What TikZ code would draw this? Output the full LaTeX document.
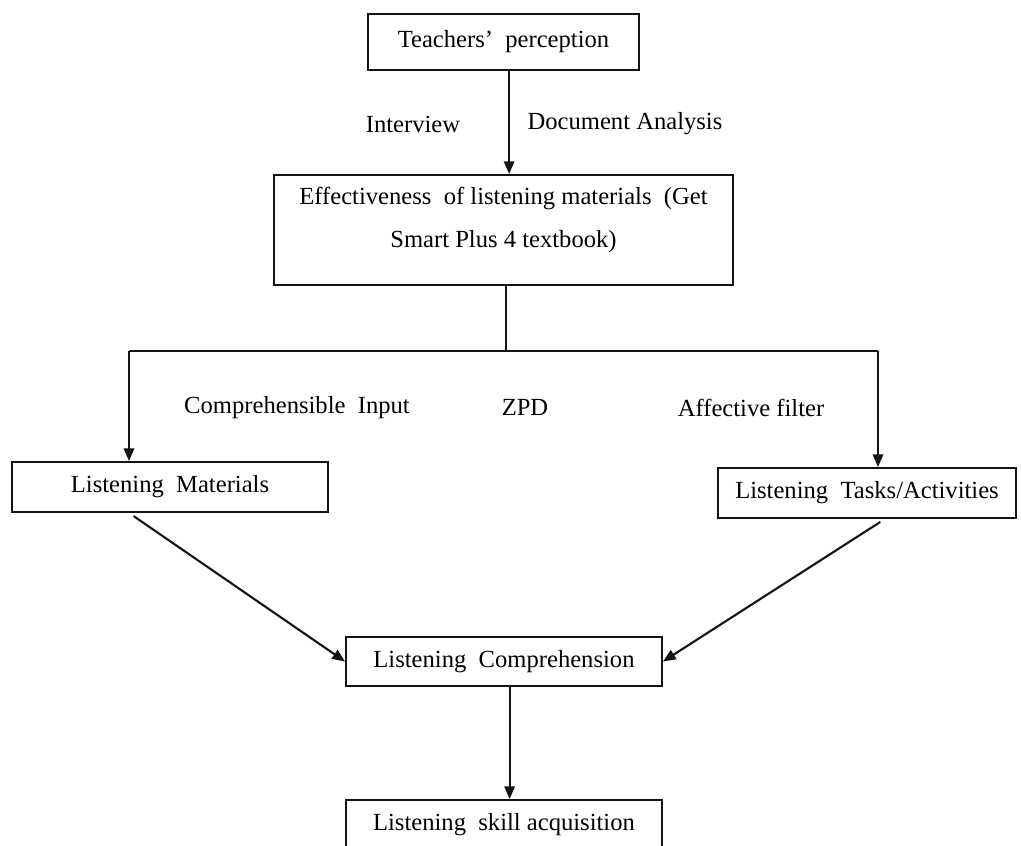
\documentclass[tikz,border=0pt]{standalone}
\usepackage{fontspec}
\setmainfont{Liberation Serif}
\usepackage{tikz}
\usetikzlibrary{arrows.meta,positioning,calc}
\definecolor{inkblack}{RGB}{20,20,20}
\tikzset{
  box/.style   ={rectangle, draw=inkblack, line width=1.3pt, fill=white,
                 align=center, inner sep=2pt},
  txt/.style   ={inner sep=1pt, align=center},
  flow/.style  ={-{Triangle[length=3.2mm,width=2.6mm]}, line width=1.5pt, draw=inkblack},
  link/.style  ={line width=1.4pt, draw=inkblack}
}

\begin{document}
\begin{tikzpicture}[x=0.025cm, y=-0.025cm, font=\fontsize{17.5}{30}\selectfont]
\clip (0,0) rectangle (1021,846);
% perception and analysis
\node[box, minimum width=6.775cm, minimum height=1.4cm] (tp) at (503.5,42) {Teachers'~ perception};
\node[txt] (iv) at (413,124) {Interview};
\node[txt] (da) at (625,124) {Document Analysis};
\node[box, minimum width=11.475cm, minimum height=2.75cm] (eff) at (503.5,230) {};
\node[txt] (efftext) at (503.5,220) {Effectiveness~ of listening materials~ (Get\\Smart Plus 4 textbook)};
\draw[flow] ([xshift=4]tp.south) -- ([xshift=4]eff.north);

% split into materials and tasks
\coordinate (split) at (506,351);
\coordinate (lt) at (129,351);
\coordinate (rt) at (878,351);
\draw[link] (eff.south -| split) -- (split);
\draw[link] (lt) -- (rt);
\node[txt] (ci) at (297,408) {Comprehensible~ Input};
\node[txt] (zpd) at (525,407) {ZPD};
\node[txt] (af) at (751,408) {Affective filter};
\node[box, minimum width=7.9cm, minimum height=1.25cm] (mat) at (170,487) {Listening~ Materials};
\node[box, minimum width=7.45cm, minimum height=1.25cm] (task) at (867,493) {Listening~ Tasks/Activities};
\draw[flow] (lt) -- (lt |- mat.north);
\draw[flow] (rt) -- (rt |- task.north);

% comprehension and acquisition
\node[box, minimum width=7.9cm, minimum height=1.225cm] (comp) at (504,661.5) {Listening~ Comprehension};
\node[box, minimum width=7.9cm, minimum height=1.25cm] (acq) at (504,825) {Listening~ skill acquisition};
\draw[flow, shorten <=4pt] (mat.south -| lt) -- (comp.west);
\draw[flow, shorten <=4pt] ([xshift=5]task.south -| rt) -- (comp.east);
\draw[flow] ([xshift=4]comp.south) -- ([xshift=4]acq.north);
\end{tikzpicture}
\end{document}
